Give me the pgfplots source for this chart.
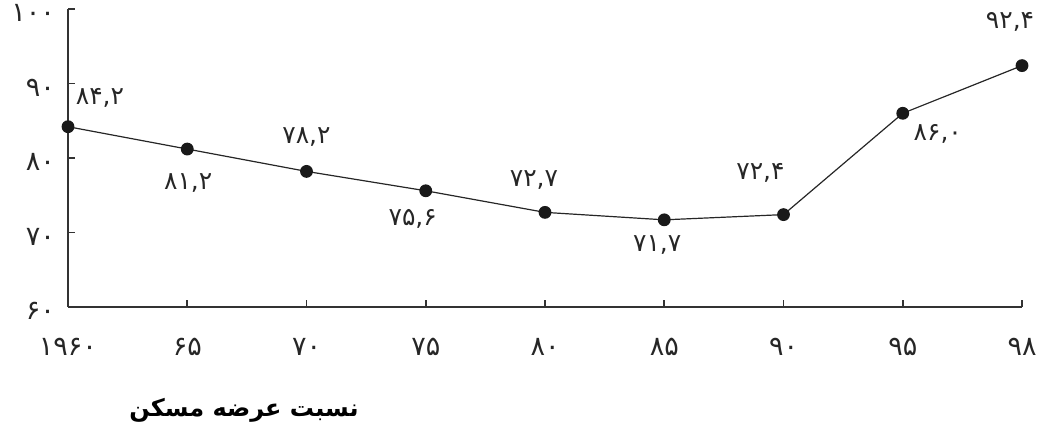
\documentclass[border=0pt]{standalone}
\usepackage{fontspec}
\usepackage{pgfplots}
\pgfplotsset{compat=1.18}
\usetikzlibrary{calc}
\TeXXeTstate=1
\newfontfamily\fa[Script=Arabic]{DejaVu Sans}
\begin{document}
\begin{tikzpicture}
\begin{axis}[
  width=477pt, height=149pt, scale only axis,
  xmin=0, xmax=8, ymin=60, ymax=100,
  axis x line=bottom, axis y line=left,
  axis line style={-, draw=black!80, line width=0.8pt},
  xtick={0,1,2,3,4,5,6,7,8},
  xticklabels={۱۹۶۰,۶۵,۷۰,۷۵,۸۰,۸۵,۹۰,۹۵,۹۸},
  ytick={60,70,80,90,100},
  yticklabels={۶۰,۷۰,۸۰,۹۰,۱۰۰},
  tick align=inside, major tick length=3.5pt,
  tick style={draw=black!80, line width=0.8pt},
  ticklabel style={font=\fa\fontsize{13.5}{15}\selectfont, text=black!85},
  xticklabel style={yshift=-12pt},
  yticklabel style={xshift=-3pt, yshift=-2pt},
  clip=false,
]
\addplot[black!85, line width=0.6pt, mark=*, mark size=2.9pt,
  mark options={fill=black!90, draw=black!90}]
  coordinates {(0,84.2) (1,81.2) (2,78.2) (3,75.6) (4,72.7) (5,71.7) (6,72.4) (7,86.0) (8,92.4)};
\coordinate (sw) at (rel axis cs:0,0);
\coordinate (ne) at (rel axis cs:1,1);
\begin{scope}[every node/.style={font=\fa\fontsize{12.5}{14}\selectfont, text=black!85, inner sep=0pt}]
\node[xshift=16pt,  yshift=14.5pt] at (axis cs:0,84.2) {۸۴,۲};
\node[xshift=0.5pt, yshift=-17pt]  at (axis cs:1,81.2) {۸۱,۲};
\node[xshift=0pt,   yshift=17pt]   at (axis cs:2,78.2) {۷۸,۲};
\node[xshift=-6.5pt,yshift=-14pt]  at (axis cs:3,75.6) {۷۵,۶};
\node[xshift=-5.5pt,yshift=16pt]   at (axis cs:4,72.7) {۷۲,۷};
\node[xshift=-3.5pt,yshift=-12.5pt] at (axis cs:5,71.7) {۷۱,۷};
\node[xshift=-11.5pt,yshift=21pt]  at (axis cs:6,72.4) {۷۲,۴};
\node[xshift=17.5pt,yshift=-10.5pt] at (axis cs:7,86.0) {۸۶,۰};
\node[xshift=-6pt,  yshift=22pt]   at (axis cs:8,92.4) {۹۲,۴};
\end{scope}
\end{axis}
\node[font=\fa\bfseries\fontsize{12}{14}\selectfont, text=black] at ($(sw)+(88pt,-51.5pt)$) {\beginR نسبت عرضه مسکن\endR};
\pgfresetboundingbox
\path[use as bounding box] ($(sw)+(-34pt,-62pt)$) rectangle ($(ne)+(10pt,4.5pt)$);
\end{tikzpicture}
\end{document}
